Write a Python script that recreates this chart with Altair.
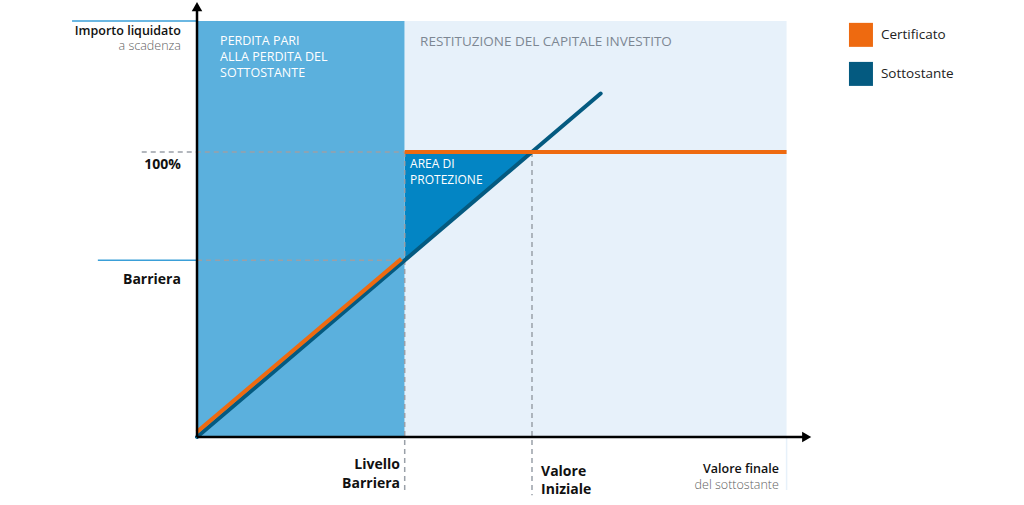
import altair as alt
import pandas as pd

FONT = "Open Sans"

# ---- conceptual values (% of the initial value of the underlying) ----
BARRIER = 62          # livello barriera
INITIAL = 100         # valore iniziale / 100%
X_END = 176           # end of shaded areas on x
Y_TOP = 146           # top of shaded areas
X_AXIS_END = 182
Y_AXIS_END = 151

# Sottostante line
sott_x = [0, 120.5]
sott_y = [0, 120.5]

# Certificato line (two segments)
cert_seg = ["below", "below", "above", "above"]
cert_x = [0, 61, 62, 176]
cert_y = [1.8, 62.5, 100, 100]

# shaded regions
reg_name = ["perdita", "restituzione"]
reg_x = [0, BARRIER]
reg_x2 = [BARRIER, X_END]
reg_color = ["#5BB0DD", "#E7F1FA"]

# protection triangle
prot_x = [BARRIER, INITIAL]
prot_y = [BARRIER, INITIAL]

# dashed guide lines
dash_x = [-16.5, 0, BARRIER, INITIAL]
dash_x2 = [INITIAL, BARRIER, BARRIER, INITIAL]
dash_y = [INITIAL, BARRIER, INITIAL, INITIAL]
dash_y2 = [INITIAL, BARRIER, -18.6, -20.4]

# blue label lines on the left
bl_x = [-37.3, -29.6]
bl_y = [Y_TOP, BARRIER]

# legend
leg_names = ["Certificato", "Sottostante"]
leg_colors = ["#EE6A10", "#045A80"]
leg_x = [198.2, 198.2]
leg_y = [141.1, 127.4]

# text annotations
t_bold_text = ["100%", "Barriera", "Livello", "Barriera", "Valore", "Iniziale"]
t_bold_x = [-4.8, -4.8, 60.6, 60.6, 102.7, 102.7]
t_bold_y = [95.4, 55.1, -10.0, -16.32, -12.3, -18.6]
t_bold_align = ["right", "right", "right", "right", "left", "left"]

t_white_text = ["PERDITA PARI", "ALLA PERDITA DEL", "SOTTOSTANTE"]
t_white_x = [6.9, 6.9, 6.9]
t_white_y = [138.77, 133.33, 127.89]

t_area_text = ["AREA DI", "PROTEZIONE"]
t_area_x = [63.6, 63.6]
t_area_y = [95.8, 90.2]

t_head_text = ["Importo liquidato", "Valore finale"]
t_head_x = [-4.8, 173.7]
t_head_y = [142.46, -11.4]

t_sub_text = ["a scadenza", "del sottostante"]
t_sub_x = [-4.8, 173.7]
t_sub_y = [137.02, -16.84]

xs = alt.Scale(domain=[-58.81, 246.87], nice=False, zero=False)
ys = alt.Scale(domain=[-23.86, 153.33], nice=False, zero=False)


def X(f="x"):
    return alt.X(f"{f}:Q", scale=xs, axis=None)


def Y(f="y"):
    return alt.Y(f"{f}:Q", scale=ys, axis=None)


regions = alt.Chart(pd.DataFrame({"name": reg_name, "x": reg_x, "x2": reg_x2,
                                  "c": reg_color})).mark_rect().encode(
    x=X(), x2="x2:Q", y=alt.Y("y0:Q", scale=ys, axis=None), y2="y1:Q",
    color=alt.Color("c:N", scale=None)
).transform_calculate(y0="0", y1=str(Y_TOP))

tail = alt.Chart(pd.DataFrame({"x": [X_END], "y": [0], "y2": [-18.6]})).mark_rule(
    color="#E7F1FA", strokeWidth=1.5).encode(x=X(), y=Y(), y2="y2:Q")

prot = alt.Chart(pd.DataFrame({"x": prot_x, "y": prot_y, "y2": [INITIAL] * 2})).mark_area(
    color="#0385C4", opacity=1).encode(x=X(), y=Y(), y2="y2:Q")

dashes = alt.Chart(pd.DataFrame({"x": dash_x, "x2": dash_x2, "y": dash_y, "y2": dash_y2})).mark_rule(
    color="#9AA0A8", strokeWidth=1.5, strokeDash=[5, 4]).encode(
    x=X(), x2="x2:Q", y=Y(), y2="y2:Q")

blines = alt.Chart(pd.DataFrame({"x": bl_x, "x2": [0, 0], "y": bl_y})).mark_rule(
    color="#3A9FD8", strokeWidth=1.5).encode(x=X(), x2="x2:Q", y=Y())

sott = alt.Chart(pd.DataFrame({"x": sott_x, "y": sott_y})).mark_line(
    color="#045A80", strokeWidth=4, strokeCap="round").encode(x=X(), y=Y())

cert = alt.Chart(pd.DataFrame({"s": cert_seg, "x": cert_x, "y": cert_y})).mark_line(
    color="#EE6A10", strokeWidth=4).encode(x=X(), y=Y(), detail="s:N")

axes = alt.Chart(pd.DataFrame({"x": [0, 0], "x2": [X_AXIS_END - 1, 0],
                               "y": [0, 0], "y2": [0, Y_AXIS_END - 1]})).mark_rule(
    color="#000000", strokeWidth=2.5).encode(x=X(), x2="x2:Q", y=Y(), y2="y2:Q")

arrow_x = alt.Chart(pd.DataFrame({"x": [X_AXIS_END], "y": [0]})).mark_point(
    shape="triangle-right", filled=True, color="#000000", size=110, opacity=1).encode(x=X(), y=Y())
arrow_y = alt.Chart(pd.DataFrame({"x": [0], "y": [Y_AXIS_END]})).mark_point(
    shape="triangle-up", filled=True, color="#000000", size=110, opacity=1).encode(x=X(), y=Y())

leg_sq = alt.Chart(pd.DataFrame({"n": leg_names, "c": leg_colors, "x": leg_x, "y": leg_y})).mark_square(
    size=576, opacity=1).encode(x=X(), y=Y(), color=alt.Color("c:N", scale=None))
leg_tx = alt.Chart(pd.DataFrame({"n": leg_names, "x": leg_x, "y": leg_y})).mark_text(
    align="left", baseline="middle", dx=20, font=FONT, fontSize=13.5, color="#222222").encode(
    x=X(), y=Y(), text="n:N")

bold = alt.Chart(pd.DataFrame({"t": t_bold_text, "x": t_bold_x, "y": t_bold_y, "a": t_bold_align}))
bold_r = bold.transform_filter("datum.a == 'right'").mark_text(
    align="right", baseline="middle", font=FONT, fontSize=14, fontWeight="bold", color="#111111").encode(
    x=X(), y=Y(), text="t:N")
bold_l = bold.transform_filter("datum.a == 'left'").mark_text(
    align="left", baseline="middle", font=FONT, fontSize=14, fontWeight="bold", color="#111111").encode(
    x=X(), y=Y(), text="t:N")

white = alt.Chart(pd.DataFrame({"t": t_white_text, "x": t_white_x, "y": t_white_y})).mark_text(
    align="left", baseline="middle", font=FONT, fontSize=12.5, color="#FFFFFF").encode(
    x=X(), y=Y(), text="t:N")

rest = alt.Chart(pd.DataFrame({"t": ["RESTITUZIONE DEL CAPITALE INVESTITO"], "x": [66.6], "y": [138.6]})).mark_text(
    align="left", baseline="middle", font=FONT, fontSize=13.5, color="#7D8793").encode(
    x=X(), y=Y(), text="t:N")

area_t = alt.Chart(pd.DataFrame({"t": t_area_text, "x": t_area_x, "y": t_area_y})).mark_text(
    align="left", baseline="middle", font=FONT, fontSize=12, color="#FFFFFF").encode(
    x=X(), y=Y(), text="t:N")

head = alt.Chart(pd.DataFrame({"t": t_head_text, "x": t_head_x, "y": t_head_y})).mark_text(
    align="right", baseline="middle", font=FONT, fontSize=12.5, fontWeight=600, color="#111111").encode(
    x=X(), y=Y(), text="t:N")
sub = alt.Chart(pd.DataFrame({"t": t_sub_text, "x": t_sub_x, "y": t_sub_y})).mark_text(
    align="right", baseline="middle", font=FONT, fontSize=12.5, fontWeight=300, color="#5F5F5F").encode(
    x=X(), y=Y(), text="t:N")

chart = alt.layer(
    regions, tail, prot, dashes, blines, sott, cert, axes, arrow_x, arrow_y,
    leg_sq, leg_tx, bold_r, bold_l, white, rest, area_t, head, sub
).properties(
    width=1024, height=505, autosize=alt.AutoSizeParams(type="none"),
    padding=0, background="#FFFFFF"
).configure_view(strokeWidth=0)

chart.save("out.html", embed_options={"renderer": "svg", "actions": False})
